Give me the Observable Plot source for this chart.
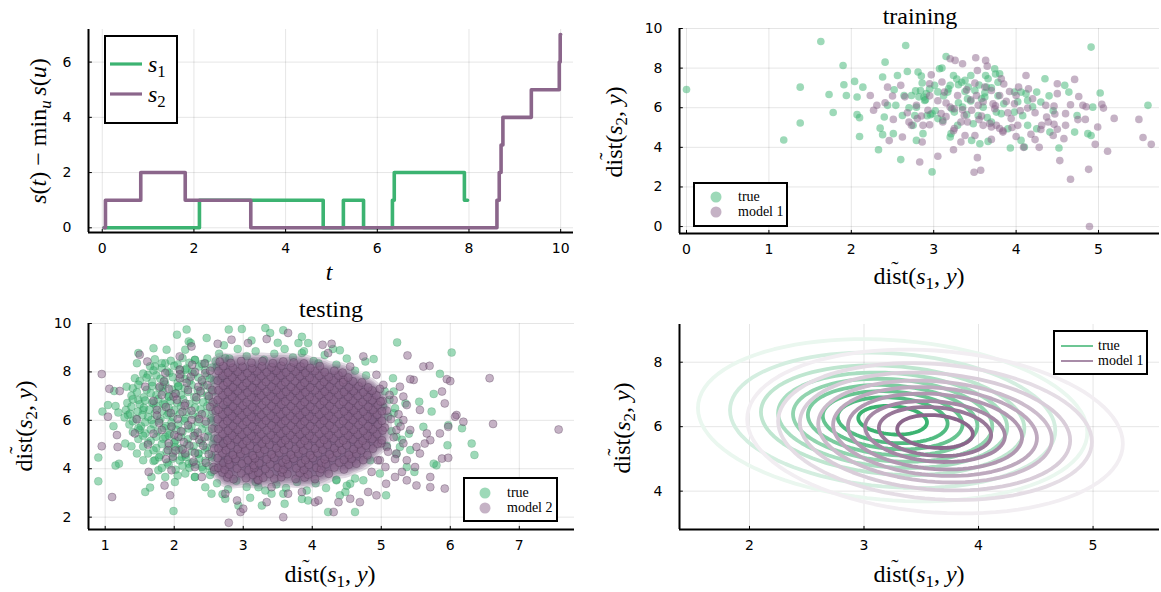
<!DOCTYPE html>
<html><head><meta charset="utf-8">
<script src="https://cdn.jsdelivr.net/npm/d3@7"></script>
<script src="https://cdn.jsdelivr.net/npm/@observablehq/plot@0.6"></script>
<style>
body{margin:0;background:#fff;}
#c{position:relative;width:1161px;height:592px;overflow:hidden;background:#fff;}
.lbl{position:absolute;white-space:nowrap;font-family:"Liberation Serif",serif;font-size:24px;line-height:1;color:#000;transform:translate(-50%,-50%);}
.rot{transform:translate(-50%,-50%) rotate(-90deg);}
sub{font-size:0.7em;vertical-align:-0.3em;line-height:0;}
.dt{position:relative;display:inline-block;}
.dt::after{content:"\02DC";position:absolute;left:62%;top:-0.22em;transform:translateX(-50%);font-size:0.9em;}
.leg{position:absolute;box-sizing:border-box;border:2px solid #000;background:#fff;}
.leg svg{position:absolute;left:0;top:0;overflow:visible;}
.lt{position:absolute;white-space:nowrap;font-family:"Liberation Serif",serif;font-size:14px;line-height:1;transform:translateY(-50%);}
</style></head>
<body><div id="c"></div>
<script>
// ---------- colours ----------
const green = "#3CB371", purple = "#8B668B";

// ---------- panel 1 : step functions ----------
const s1T = [0.04, 2.12, 4.82, 5.26, 5.70, 6.33, 6.37, 7.90, 7.97];
const s1V = [0, 1, 0, 1, 0, 1, 2, 1, 1];
const s2T = [0.04, 0.07, 0.84, 1.81, 3.24, 8.61, 8.66, 8.70, 8.74, 9.36, 9.97, 9.99, 10.0];
const s2V = [0, 1, 2, 1, 0, 1, 2, 3, 4, 5, 6, 7, 7];
const p1xTicks = [0, 2, 4, 6, 8, 10], p1yTicks = [0, 2, 4, 6];

// ---------- panel 2 : training ----------
const trainTrue = [[0.00,6.92],[1.63,9.34],[2.66,9.14],[4.91,9.06],[1.90,8.13],[2.41,8.30],[1.38,7.04],[1.73,6.67],[1.91,7.16],[1.94,6.62],[1.78,5.76],[1.38,5.23],[1.18,4.37],[2.04,7.33],[2.14,7.04],[2.07,6.54],[2.07,5.65],[2.10,5.50],[2.10,4.55],[2.33,3.88],[2.35,4.97],[2.38,4.64],[2.38,7.55],[2.56,7.63],[2.68,7.83],[2.51,4.69],[2.60,3.38],[2.52,6.91],[2.54,6.12],[2.44,6.12],[2.64,6.62],[2.73,6.62],[2.81,7.80],[2.85,7.60],[2.84,6.87],[2.88,6.54],[2.91,6.71],[2.79,6.03],[2.77,5.61],[2.87,4.69],[2.79,4.35],[2.98,2.76],[2.98,5.70],[3.01,7.13],[3.07,7.97],[3.10,8.00],[3.15,8.59],[3.24,7.63],[3.20,7.13],[3.17,6.79],[3.30,7.16],[3.34,7.29],[3.38,7.38],[3.45,7.63],[3.50,6.87],[3.41,6.45],[3.35,6.03],[3.25,5.78],[3.05,5.45],[3.11,5.36],[3.21,4.69],[3.20,4.52],[3.29,5.11],[3.48,5.19],[3.46,4.35],[3.56,4.18],[3.66,4.30],[3.63,7.63],[3.66,7.46],[3.74,7.97],[3.80,7.71],[3.78,7.29],[3.64,7.04],[3.62,6.54],[3.60,6.03],[3.76,5.78],[3.82,5.70],[3.98,5.78],[3.98,6.79],[4.06,6.79],[4.12,6.71],[4.14,6.37],[4.25,6.79],[4.35,7.46],[4.30,6.29],[4.25,4.94],[4.41,4.77],[4.14,5.11],[4.06,4.35],[4.10,4.02],[3.93,3.97],[4.52,3.97],[4.59,7.13],[4.64,6.79],[4.74,5.61],[4.71,4.77],[4.87,4.69],[4.91,4.60],[4.93,6.03],[5.02,6.74],[5.60,6.12],[3.45,6.34],[3.54,5.61],[3.70,5.28],[3.90,4.94],[2.89,6.37],[2.96,5.65],[2.75,5.11],[2.62,5.61],[2.40,5.53],[2.95,6.95],[3.05,6.80],[2.90,6.40],[2.82,6.55],[2.78,6.85],[3.12,6.60],[3.18,6.95],[3.38,6.82],[3.42,7.05],[3.55,7.15],[3.70,7.00],[3.58,6.45],[3.30,6.25],[3.22,5.95],[3.02,5.85],[2.70,6.00],[2.92,5.60],[3.65,5.50],[3.85,6.20],[4.02,6.30],[4.20,6.05],[4.45,5.85],[3.40,5.65],[3.62,6.75],[3.78,6.60],[2.86,7.25],[3.28,7.45],[3.75,7.70],[4.40,6.60],[4.08,5.60]];
const trainModel1 = [[4.89,0.00],[4.66,2.39],[4.88,2.89],[4.53,3.33],[3.49,2.74],[3.57,2.84],[3.53,3.48],[3.05,3.55],[2.83,3.26],[3.24,3.88],[3.33,4.27],[3.38,4.60],[3.24,4.84],[4.28,4.00],[4.09,4.00],[4.23,4.39],[4.18,4.66],[4.58,4.44],[4.96,4.15],[5.11,3.80],[5.64,4.15],[5.54,4.50],[5.49,5.41],[5.19,5.46],[4.99,5.03],[5.06,5.98],[5.04,6.17],[4.84,5.41],[4.81,6.12],[4.76,6.57],[4.71,7.43],[4.66,6.15],[4.60,5.11],[4.50,4.91],[4.46,5.16],[4.47,5.68],[4.50,6.71],[4.50,7.21],[4.46,6.08],[4.36,6.12],[4.37,5.53],[4.31,5.11],[4.12,7.63],[4.03,7.04],[4.00,6.62],[3.92,6.82],[3.88,6.32],[3.94,5.45],[3.84,4.84],[3.76,5.11],[3.70,5.03],[3.80,6.62],[3.74,5.95],[3.70,6.87],[3.65,8.10],[3.63,8.39],[3.51,8.52],[3.35,8.22],[3.26,8.39],[3.20,8.47],[3.53,7.88],[3.50,7.24],[3.52,6.62],[3.54,6.12],[3.46,5.87],[3.37,5.61],[3.33,5.28],[3.25,5.95],[3.20,6.03],[3.13,6.79],[3.15,6.24],[3.09,5.70],[3.11,5.28],[2.97,7.66],[2.95,7.21],[2.93,5.87],[2.95,5.14],[2.87,5.11],[2.86,4.27],[2.85,5.58],[2.79,6.12],[2.73,5.11],[2.68,5.75],[2.70,5.28],[2.62,4.52],[2.60,7.13],[2.50,6.59],[2.51,5.41],[2.46,4.34],[2.41,6.25],[2.31,6.12],[2.27,5.87],[2.23,6.62],[2.44,7.04],[4.14,5.98],[4.23,5.75],[4.39,5.28],[4.02,5.11],[3.82,7.46],[3.72,6.20],[3.84,4.77],[3.60,5.11],[3.58,5.58],[3.41,5.28],[3.29,6.62],[3.98,6.20],[3.45,6.40],[3.60,6.30],[3.75,6.10],[3.90,5.75],[4.05,5.85],[4.20,6.45],[3.35,5.90],[3.55,5.40],[3.68,5.20],[3.80,4.95],[3.95,5.00],[4.30,4.90],[4.45,4.60],[3.15,5.55],[3.05,6.35],[2.95,6.60],[3.40,6.90],[3.62,7.05],[3.85,7.20],[4.15,6.95],[4.60,5.70],[4.75,5.40],[3.25,4.95],[2.80,5.45],[2.65,6.55],[3.10,7.30],[3.50,4.60],[4.85,6.05],[4.00,4.55],[3.70,4.40]];
const p2xTicks = [0, 1, 2, 3, 4, 5], p2yTicks = [0, 2, 4, 6, 8, 10];

// ---------- panel 3 : testing ----------
const testTrue = [[0.90,3.48],[0.90,4.46],[0.96,6.36],[1.04,6.63],[1.15,6.59],[1.12,5.76],[1.19,6.32],[1.20,4.21],[1.15,4.13],[1.13,7.21],[1.29,5.04],[1.33,6.22],[1.38,4.93],[1.46,8.36],[1.48,8.78],[1.50,5.60],[1.58,3.04],[1.65,3.22],[1.70,8.98],[1.99,2.25],[2.04,9.54],[2.16,8.92],[2.18,9.75],[2.21,9.26],[2.24,9.19],[2.47,9.40],[2.79,9.75],[2.98,9.77],[3.32,9.81],[3.58,9.72],[3.39,9.61],[3.80,9.19],[3.94,9.19],[1.89,8.92],[1.72,8.22],[1.87,8.36],[1.43,7.74],[1.62,7.88],[1.31,7.39],[1.48,6.84],[1.55,6.43],[1.70,6.70],[1.67,6.01],[1.46,4.63],[1.55,4.35],[1.72,4.35],[1.77,3.94],[1.87,3.66],[1.67,3.66],[2.01,3.45],[2.16,3.80],[2.30,3.66],[2.45,3.24],[2.54,2.97],[2.74,2.76],[2.93,2.48],[3.27,2.48],[3.60,2.55],[3.94,2.69],[4.23,2.21],[3.22,3.24],[3.41,2.97],[3.58,2.97],[3.85,8.78],[4.09,8.36],[2.74,8.57],[2.62,8.22],[2.16,8.08],[2.06,7.39],[1.92,6.98],[1.83,7.39],[1.96,5.73],[1.87,5.32],[2.01,4.90],[2.11,4.49],[2.21,4.21],[2.35,4.63],[2.40,4.07],[2.54,3.87],[1.92,6.29],[1.84,6.70],[2.30,8.50],[2.45,8.36],
[5.23,9.22],[6.02,8.80],[4.40,8.89],[4.77,8.43],[4.89,8.53],[5.17,7.74],[5.18,7.19],[5.85,7.92],[5.76,7.09],[5.55,6.77],[5.73,6.36],[6.17,5.67],[5.97,5.80],[6.31,5.04],[6.35,4.57],[5.96,4.97],[5.80,4.14],[5.76,4.21],[5.48,3.87],[5.37,4.07],[5.07,2.90],[4.62,2.21],[4.48,3.04],[5.22,5.32],[5.27,4.90],[5.61,5.73],[5.42,4.77],[5.18,6.29],[5.03,6.56],[4.89,6.01],[4.84,4.35],[4.98,3.80],[4.74,3.52],[4.55,3.38],[4.35,3.52],
[1.72,8.52],[1.95,8.46],[2.12,8.57],[2.30,8.49],[2.48,8.55],[2.60,8.44],[1.65,8.23],[1.82,8.16],[2.00,8.25],[2.18,8.14],[2.36,8.22],[2.55,8.18],[1.55,7.93],[1.74,7.86],[1.93,7.95],[2.10,7.88],[2.28,7.92],[2.47,7.85],[1.50,7.62],[1.68,7.57],[1.86,7.64],[2.05,7.55],[2.22,7.63],[2.41,7.58],[2.58,7.66],[1.40,7.33],[1.60,7.26],[1.78,7.34],[1.97,7.27],[2.15,7.32],[2.34,7.25],[2.52,7.35],[1.38,7.02],[1.56,6.95],[1.74,7.04],[1.92,6.97],[2.10,7.05],[2.29,6.96],[2.48,7.03],[1.32,6.72],[1.50,6.66],[1.68,6.74],[1.86,6.65],[2.04,6.73],[2.22,6.67],[2.42,6.75],[2.58,6.68],[1.30,6.43],[1.47,6.36],[1.64,6.44],[1.82,6.37],[2.00,6.42],[2.18,6.35],[2.38,6.45],[2.56,6.38],[1.28,6.12],[1.45,6.06],[1.62,6.14],[1.80,6.05],[1.98,6.13],[2.16,6.07],[2.35,6.15],[2.53,6.08],[1.35,5.83],[1.52,5.76],[1.70,5.84],[1.88,5.77],[2.06,5.82],[2.25,5.75],[2.45,5.85],[1.40,5.52],[1.58,5.46],[1.76,5.54],[1.94,5.45],[2.12,5.53],[2.30,5.47],[2.50,5.55],[1.48,5.23],[1.66,5.16],[1.84,5.24],[2.02,5.17],[2.20,5.22],[2.40,5.15],[2.58,5.25],[1.55,4.92],[1.74,4.86],[1.92,4.94],[2.10,4.85],[2.28,4.93],[2.47,4.87],[1.62,4.63],[1.80,4.56],[1.98,4.64],[2.16,4.57],[2.35,4.62],[2.54,4.55],[1.70,4.32],[1.90,4.26],[2.08,4.34],[2.26,4.25],[2.45,4.33],[1.82,4.03],[2.02,3.96],[2.22,4.04],[2.42,3.97],[2.60,4.02],[2.05,3.72],[2.30,3.66],[2.52,3.74],
[1.82,8.36],[2.05,8.31],[2.22,8.38],[2.40,8.33],[1.70,8.06],[1.90,8.02],[2.08,8.08],[2.26,8.01],[2.45,8.07],[1.60,7.76],[1.80,7.72],[1.98,7.78],[2.16,7.71],[2.35,7.77],[2.52,7.74],[1.48,7.47],[1.68,7.42],[1.87,7.48],[2.06,7.41],[2.25,7.46],[2.43,7.43],[1.46,7.16],[1.66,7.12],[1.84,7.18],[2.02,7.11],[2.20,7.17],[2.39,7.13],[2.56,7.19],[1.40,6.87],[1.58,6.82],[1.77,6.88],[1.95,6.81],[2.13,6.86],[2.32,6.83],[2.50,6.89],[1.38,6.56],[1.56,6.52],[1.74,6.58],[1.92,6.51],[2.10,6.57],[2.30,6.53],[2.48,6.59],[1.36,6.27],[1.54,6.22],[1.72,6.28],[1.90,6.21],[2.08,6.26],[2.27,6.23],[2.45,6.29],[1.40,5.96],[1.58,5.92],[1.78,5.98],[1.96,5.91],[2.15,5.97],[2.34,5.93],[2.54,5.99],[1.48,5.67],[1.66,5.62],[1.85,5.68],[2.03,5.61],[2.21,5.66],[2.40,5.63],[2.58,5.69],[1.55,5.36],[1.74,5.32],[1.92,5.38],[2.10,5.31],[2.30,5.37],[2.49,5.33],[1.62,5.07],[1.82,5.02],[2.00,5.08],[2.19,5.01],[2.38,5.06],[2.56,5.03],[1.70,4.76],[1.89,4.72],[2.07,4.78],[2.26,4.71],[2.45,4.77],[1.78,4.47],[1.98,4.42],[2.17,4.48],[2.36,4.41],[2.55,4.46],[1.92,4.16],[2.12,4.12],[2.32,4.18],[2.50,4.11],
[2.65,8.75],[2.80,8.55],[2.92,8.95],[3.05,8.65],[3.18,8.85],[3.30,8.50],[3.45,8.75],[3.60,8.95],[3.72,8.60],[3.88,8.85],[4.02,8.45],[4.18,8.70],[4.35,8.30],[4.50,8.55],[4.62,8.05],[4.78,7.85],[2.72,9.10],[3.12,9.30],[3.50,9.20],[3.85,9.45],[4.30,8.95],
[2.62,3.40],[2.78,3.15],[2.90,3.50],[3.05,3.25],[3.18,3.45],[3.32,3.10],[3.48,3.35],[3.62,3.20],[3.78,3.45],[3.92,3.10],[4.05,3.40],[4.20,3.20],[4.35,3.55],[4.50,3.30],[4.62,3.60],[2.70,2.95],[3.10,2.80],[3.85,2.75],[4.40,2.90],
[5.05,7.20],[5.12,6.85],[5.20,6.50],[5.10,6.15],[5.25,5.90],[5.15,5.55],[5.30,5.20],[5.08,4.95],[5.22,4.60],[5.35,6.70],[5.40,5.45],[2.70,5.10],[2.75,6.60],[2.68,7.70],[2.72,4.30]];
const testModel2 = [[0.95,7.91],[1.10,2.83],[0.95,4.93],[1.06,7.30],[1.21,7.21],[1.04,6.15],[1.17,5.39],[1.18,4.90],[1.43,5.46],[1.46,6.04],[1.50,8.71],[1.61,8.43],[1.63,3.87],[1.86,3.31],[1.94,2.90],[1.91,4.77],[1.82,5.60],[1.75,6.43],[1.58,7.39],[1.79,7.39],[1.99,6.98],[1.87,7.95],[2.08,8.64],[2.25,9.05],[2.63,9.16],[2.83,9.33],[3.07,9.19],[3.34,9.36],[3.65,9.61],[4.15,9.12],[4.23,8.78],[2.57,4.07],[2.74,2.97],[2.91,2.69],[2.96,2.21],[2.79,1.77],[3.00,2.35],[3.34,2.62],[3.58,2.00],[4.04,2.62],[4.31,2.21],[2.30,4.07],[2.16,4.63],[2.06,5.32],[2.25,6.01],[2.16,6.70],[2.35,7.39],[2.45,7.95],[2.08,7.74],[1.96,3.94],[2.40,3.66],[3.22,3.52],[3.41,3.24],[3.65,2.97],[3.85,3.04],[4.09,2.69],
[4.28,9.16],[5.38,8.68],[6.57,7.74],[7.57,5.62],[6.62,5.85],[5.95,7.70],[5.61,8.22],[5.70,8.25],[5.47,7.67],[5.42,7.70],[5.27,7.39],[5.18,6.84],[5.32,6.98],[5.37,6.63],[5.56,6.43],[5.88,7.19],[5.92,6.70],[6.09,6.22],[6.19,5.94],[6.07,6.15],[5.85,5.46],[5.97,5.73],[5.66,5.46],[5.71,5.18],[5.51,4.90],[5.56,4.63],[5.63,5.04],[5.37,4.35],[5.49,4.07],[5.30,3.87],[5.20,3.66],[5.37,3.52],[5.51,3.31],[5.71,3.66],[5.71,3.24],[5.92,3.18],[5.88,4.42],[5.97,4.45],[5.07,3.38],[4.93,2.90],[4.81,3.04],[4.69,2.62],[4.55,2.76],[4.38,2.62],[4.86,3.87],[5.06,4.07],[5.22,4.63],[4.98,4.35],[5.08,4.90],[5.32,6.01],[5.22,5.60],[5.42,5.60],[5.03,7.46],[4.93,7.88],[4.74,8.64],[4.55,8.22],[4.45,7.67],[6.00,7.62],
[1.62,5.00],[1.70,6.80],[1.78,5.90],[1.85,7.60],[1.88,4.40],[1.95,6.30],[2.00,5.40],[2.02,7.10],[2.08,8.10],[2.12,4.80],[2.15,6.60],[2.20,5.80],[2.24,7.80],[2.28,4.30],[2.32,6.95],[2.36,5.20],[2.40,6.25],[2.44,8.35],[2.48,7.45],[2.50,4.60],[2.55,5.65],[2.56,6.75],[2.58,3.95],[1.92,5.05],[2.05,6.05],[2.25,6.40],[2.38,7.20],[2.46,5.95],[1.75,6.20],[1.82,7.05],[2.18,7.55],[2.30,8.00],[2.52,8.05],[2.42,4.95],[1.98,4.50],[2.10,5.55],[2.34,5.50],[2.22,4.95],[2.50,7.00],[2.60,6.40],
[1.88,6.55],[1.96,5.75],[2.04,6.85],[2.12,6.35],[2.20,7.25],[2.28,5.35],[2.36,6.05],[2.44,5.30],[2.52,6.55],[2.14,5.10],[2.30,4.65],[2.46,4.25],[2.08,7.90],[2.26,8.30],[2.40,7.65],[1.92,7.30],[1.70,5.45],[2.55,7.25],[2.58,4.85],[2.02,4.75],
[5.02,6.80],[5.08,6.40],[5.14,6.05],[5.05,5.70],[5.18,5.30],[5.00,5.05],[5.10,4.70],[5.25,6.25],[5.28,5.75],[4.98,7.30],[5.12,7.05],[4.95,4.35],[5.20,4.40],[5.32,5.05]];
const testModel2Core = [[2.77,3.64],[2.86,3.57],[3.04,3.61],[3.21,3.55],[3.29,3.63],[3.45,3.59],[3.55,3.65],[3.76,3.58],[3.89,3.64],[4.04,3.57],
[2.70,3.84],[2.79,3.77],[2.97,3.81],[3.14,3.75],[3.22,3.83],[3.38,3.79],[3.56,3.85],[3.64,3.78],[3.82,3.82],[3.94,3.76],[4.11,3.84],[4.24,3.79],
[2.64,4.04],[2.73,3.97],[2.91,4.01],[3.08,3.95],[3.16,4.03],[3.32,3.99],[3.50,4.05],[3.58,3.98],[3.77,4.02],[3.88,3.96],[4.06,4.04],[4.13,3.99],[4.32,4.05],[4.46,3.97],
[2.71,4.24],[2.80,4.17],[2.98,4.21],[3.15,4.15],[3.23,4.23],[3.39,4.19],[3.57,4.25],[3.65,4.18],[3.84,4.22],[3.95,4.16],[4.13,4.24],[4.20,4.19],[4.39,4.25],[4.53,4.17],[4.64,4.21],
[2.63,4.44],[2.78,4.37],[2.89,4.41],[3.07,4.35],[3.17,4.43],[3.34,4.39],[3.45,4.45],[3.62,4.38],[3.73,4.42],[3.90,4.36],[4.01,4.44],[4.18,4.39],[4.29,4.45],[4.46,4.37],[4.57,4.41],[4.74,4.36],
[2.70,4.64],[2.85,4.57],[2.96,4.61],[3.14,4.55],[3.24,4.63],[3.41,4.59],[3.52,4.65],[3.69,4.58],[3.80,4.62],[3.97,4.56],[4.08,4.64],[4.25,4.59],[4.36,4.65],[4.53,4.57],[4.64,4.61],[4.80,4.56],
[2.64,4.84],[2.75,4.77],[2.92,4.81],[3.03,4.75],[3.20,4.83],[3.31,4.79],[3.48,4.85],[3.59,4.78],[3.76,4.82],[3.87,4.76],[4.04,4.84],[4.15,4.79],[4.32,4.85],[4.43,4.77],[4.60,4.81],[4.71,4.76],[4.88,4.83],
[2.71,5.04],[2.82,4.97],[2.99,5.01],[3.10,4.95],[3.27,5.03],[3.38,4.99],[3.55,5.05],[3.66,4.98],[3.83,5.02],[3.94,4.96],[4.11,5.04],[4.22,4.99],[4.39,5.05],[4.50,4.97],[4.67,5.01],[4.78,4.96],[4.95,5.03],
[2.63,5.24],[2.77,5.17],[2.91,5.21],[3.05,5.15],[3.19,5.23],[3.33,5.19],[3.47,5.25],[3.61,5.18],[3.75,5.22],[3.89,5.16],[4.03,5.24],[4.17,5.19],[4.31,5.25],[4.45,5.17],[4.59,5.21],[4.73,5.16],[4.87,5.23],[5.01,5.18],
[2.70,5.44],[2.84,5.37],[2.98,5.41],[3.12,5.35],[3.26,5.43],[3.40,5.39],[3.54,5.45],[3.68,5.38],[3.82,5.42],[3.96,5.36],[4.10,5.44],[4.24,5.39],[4.38,5.45],[4.52,5.37],[4.66,5.41],[4.80,5.36],[4.94,5.43],
[2.64,5.64],[2.78,5.57],[2.92,5.61],[3.06,5.55],[3.20,5.63],[3.34,5.59],[3.48,5.65],[3.62,5.58],[3.76,5.62],[3.90,5.56],[4.04,5.64],[4.18,5.59],[4.32,5.65],[4.46,5.57],[4.60,5.61],[4.74,5.56],[4.88,5.63],[5.02,5.58],
[2.71,5.84],[2.85,5.77],[2.99,5.81],[3.13,5.75],[3.27,5.83],[3.41,5.79],[3.55,5.85],[3.69,5.78],[3.83,5.82],[3.97,5.76],[4.11,5.84],[4.25,5.79],[4.39,5.85],[4.53,5.77],[4.67,5.81],[4.81,5.76],[4.95,5.83],
[2.63,6.04],[2.77,5.97],[2.91,6.01],[3.05,5.95],[3.19,6.03],[3.33,5.99],[3.47,6.05],[3.61,5.98],[3.75,6.02],[3.89,5.96],[4.03,6.04],[4.17,5.99],[4.31,6.05],[4.45,5.97],[4.59,6.01],[4.73,5.96],[4.87,6.03],[5.01,5.98],
[2.70,6.24],[2.84,6.17],[2.98,6.21],[3.12,6.15],[3.26,6.23],[3.40,6.19],[3.54,6.25],[3.68,6.18],[3.82,6.22],[3.96,6.16],[4.10,6.24],[4.24,6.19],[4.38,6.25],[4.52,6.17],[4.66,6.21],[4.80,6.16],[4.94,6.23],
[2.64,6.44],[2.78,6.37],[2.92,6.41],[3.06,6.35],[3.20,6.43],[3.34,6.39],[3.48,6.45],[3.62,6.38],[3.76,6.42],[3.90,6.36],[4.04,6.44],[4.18,6.39],[4.32,6.45],[4.46,6.37],[4.60,6.41],[4.74,6.36],[4.88,6.43],[5.01,6.38],
[2.71,6.64],[2.85,6.57],[2.99,6.61],[3.13,6.55],[3.27,6.63],[3.41,6.59],[3.55,6.65],[3.69,6.58],[3.83,6.62],[3.97,6.56],[4.11,6.64],[4.25,6.59],[4.39,6.65],[4.53,6.57],[4.67,6.61],[4.81,6.56],[4.95,6.63],
[2.63,6.84],[2.77,6.77],[2.91,6.81],[3.05,6.75],[3.19,6.83],[3.33,6.79],[3.47,6.85],[3.61,6.78],[3.75,6.82],[3.89,6.76],[4.03,6.84],[4.17,6.79],[4.31,6.85],[4.45,6.77],[4.59,6.81],[4.73,6.76],[4.87,6.83],[4.99,6.78],
[2.70,7.04],[2.84,6.97],[2.98,7.01],[3.12,6.95],[3.26,7.03],[3.40,6.99],[3.54,7.05],[3.68,6.98],[3.82,7.02],[3.96,6.96],[4.10,7.04],[4.24,6.99],[4.38,7.05],[4.52,6.97],[4.66,7.01],[4.80,6.96],[4.93,7.03],
[2.64,7.24],[2.78,7.17],[2.92,7.21],[3.06,7.15],[3.20,7.23],[3.34,7.19],[3.48,7.25],[3.62,7.18],[3.76,7.22],[3.90,7.16],[4.04,7.24],[4.18,7.19],[4.32,7.25],[4.46,7.17],[4.60,7.21],[4.74,7.16],[4.87,7.23],
[2.71,7.44],[2.85,7.37],[2.99,7.41],[3.13,7.35],[3.27,7.43],[3.41,7.39],[3.55,7.45],[3.69,7.38],[3.83,7.42],[3.97,7.36],[4.11,7.44],[4.25,7.39],[4.39,7.45],[4.53,7.37],[4.67,7.41],[4.81,7.36],
[2.63,7.64],[2.77,7.57],[2.91,7.61],[3.05,7.55],[3.19,7.63],[3.33,7.59],[3.47,7.65],[3.61,7.58],[3.75,7.62],[3.89,7.56],[4.03,7.64],[4.17,7.59],[4.31,7.65],[4.45,7.57],[4.59,7.61],[4.72,7.56],
[2.70,7.84],[2.84,7.77],[2.98,7.81],[3.12,7.75],[3.26,7.83],[3.40,7.79],[3.54,7.85],[3.68,7.78],[3.82,7.82],[3.96,7.76],[4.10,7.84],[4.24,7.79],[4.38,7.85],[4.52,7.77],
[2.64,8.04],[2.78,7.97],[2.92,8.01],[3.06,7.95],[3.20,8.03],[3.34,7.99],[3.48,8.05],[3.62,7.98],[3.76,8.02],[3.90,7.96],[4.04,8.04],[4.18,7.99],[4.32,8.05],[4.44,7.97],
[2.71,8.24],[2.85,8.17],[2.99,8.21],[3.13,8.15],[3.27,8.23],[3.41,8.19],[3.55,8.25],[3.69,8.18],[3.83,8.22],[3.97,8.16],[4.11,8.24],
[2.66,8.42],[2.82,8.37],[2.97,8.45],[3.12,8.38],[3.28,8.44],[3.43,8.36],[3.58,8.43],[3.73,8.39],[3.88,8.35]];
const p3xTicks = [1, 2, 3, 4, 5, 6, 7], p3yTicks = [2, 4, 6, 8, 10];

// ---------- panel 4 : density contours (fitted Gaussians) ----------
const trueCenter = [3.25, 6.20], trueShape = {k: 1.48, rho: -0.15};
const trueHalfWidths = [0.30, 0.48, 0.61, 0.74, 0.87, 1.00, 1.15, 1.42, 1.70];
const modelCenter = [3.62, 5.85], modelShape = {k: 1.55, rho: -0.15};
const modelHalfWidths = [0.33, 0.49, 0.61, 0.76, 0.89, 1.02, 1.18, 1.37, 1.64];
const levelShade = [1, 0.89, 0.78, 0.67, 0.56, 0.44, 0.33, 0.22, 0.11];
const p4xTicks = [2, 3, 4, 5], p4yTicks = [4, 6, 8];

// ---------- helpers ----------
const C = document.getElementById("c");
function put(cls, html, x, y) {
  const d = document.createElement("div");
  d.className = cls; d.innerHTML = html;
  d.style.left = x + "px"; d.style.top = y + "px";
  C.appendChild(d); return d;
}
function panel({box, fr, xd, yd, xt, yt, marks}) {
  const svg = Plot.plot({
    width: box[2], height: box[3],
    marginLeft: fr[0] - box[0], marginTop: fr[1] - box[1],
    marginRight: box[0] + box[2] - fr[2], marginBottom: box[1] + box[3] - fr[3],
    x: {domain: xd, ticks: xt, tickFormat: "d", tickSize: 0, tickPadding: 11, label: null},
    y: {domain: yd, ticks: yt, tickFormat: "d", tickSize: 0, tickPadding: 17, label: null},
    style: {fontFamily: "DejaVu Sans, sans-serif", fontSize: "14px", color: "#000", background: "transparent", overflow: "visible"},
    marks: [
      Plot.gridX(xt, {stroke: "#000", strokeOpacity: 0.1, strokeWidth: 1}),
      Plot.gridY(yt, {stroke: "#000", strokeOpacity: 0.1, strokeWidth: 1}),
      ...marks,
      Plot.ruleX(xt, {y1: yd[0], y2: yd[0] + (yd[1] - yd[0]) * 0.015, stroke: "#000", strokeWidth: 1}),
      Plot.ruleY(yt, {x1: xd[0], x2: xd[0] + (xd[1] - xd[0]) * 0.008, stroke: "#000", strokeWidth: 1}),
      Plot.ruleX([xd[0]], {stroke: "#000", strokeWidth: 2}),
      Plot.ruleY([yd[0]], {stroke: "#000", strokeWidth: 2})
    ]
  });
  svg.style.position = "absolute";
  svg.style.left = box[0] + "px"; svg.style.top = box[1] + "px";
  C.appendChild(svg);
}
function legend(x, y, w, h, items) {
  const d = document.createElement("div");
  d.className = "leg";
  Object.assign(d.style, {left: x + "px", top: y + "px", width: w + "px", height: h + "px"});
  let svg = `<svg width="${w}" height="${h}">`;
  let txt = "";
  for (const it of items) {
    if (it.kind === "dot") svg += `<circle cx="${it.mx}" cy="${it.my}" r="${it.r}" fill="${it.color}" fill-opacity="0.5"/>`;
    else svg += `<line x1="${it.mx}" x2="${it.mx2}" y1="${it.my}" y2="${it.my}" stroke="${it.color}" stroke-width="${it.sw}"/>`;
    txt += `<div class="lt" style="left:${it.tx}px;top:${it.my}px;${it.style || ""}">${it.label}</div>`;
  }
  d.innerHTML = svg + "</svg>" + txt;
  C.appendChild(d);
}
const xy = {x: d => d[0], y: d => d[1]};
const DIST = '<span class="dt">dist</span>';

// ---------- panel 1 ----------
const s1 = s1T.map((t, i) => ({t, v: s1V[i]}));
const s2 = s2T.map((t, i) => ({t, v: s2V[i]}));
panel({box: [0, 0, 580, 292], fr: [88, 29, 573, 232], xd: [-0.3, 10.28], yd: [-0.17, 7.18],
  xt: p1xTicks, yt: p1yTicks,
  marks: [
    Plot.line(s1, {x: "t", y: "v", curve: "step-after", stroke: green, strokeWidth: 3.6}),
    Plot.line(s2, {x: "t", y: "v", curve: "step-after", stroke: purple, strokeWidth: 3.6})
  ]});
put("lbl rot", '<i>s</i>(<i>t</i>) − min<sub><i>u</i></sub>&thinsp;<i>s</i>(<i>u</i>)', 38, 131);
put("lbl", "<i>t</i>", 329, 272);
legend(104, 35, 74, 89, [
  {kind: "line", mx: 4, mx2: 36, my: 27, color: green, sw: 3.2, tx: 42, label: "<i>s</i><sub>1</sub>", style: "font-size:24px;"},
  {kind: "line", mx: 4, mx2: 36, my: 57, color: purple, sw: 3.2, tx: 42, label: "<i>s</i><sub>2</sub>", style: "font-size:24px;"}
]);

// ---------- panel 2 ----------
panel({box: [580, 0, 581, 292], fr: [679, 28, 1159, 233], xd: [-0.085, 5.74], yd: [-0.35, 10.0],
  xt: p2xTicks, yt: p2yTicks,
  marks: [
    Plot.dot(trainTrue, {...xy, r: 3.8, fill: green, fillOpacity: 0.5, clip: true}),
    Plot.dot(trainModel1, {...xy, r: 3.8, fill: purple, fillOpacity: 0.5, clip: true})
  ]});
put("lbl", "training", 920, 16);
put("lbl", DIST + "(<i>s</i><sub>1</sub>, <i>y</i>)", 919, 276);
put("lbl rot", DIST + "(<i>s</i><sub>2</sub>, <i>y</i>)", 614, 132);
legend(693, 182, 95, 45, [
  {kind: "dot", mx: 21, my: 13, r: 5.5, color: green, tx: 43, label: "true"},
  {kind: "dot", mx: 21, my: 28, r: 5.5, color: purple, tx: 43, label: "model 1"}
]);

// ---------- panel 3 ----------
const dotG = {...xy, r: 4, fill: green, fillOpacity: 0.5, stroke: "#23703f", strokeOpacity: 0.25, strokeWidth: 0.7, clip: true};
const dotP = {...xy, r: 4, fill: purple, fillOpacity: 0.5, stroke: "#3e2842", strokeOpacity: 0.35, strokeWidth: 0.8, clip: true};
panel({box: [0, 295, 580, 297], fr: [88, 323, 574, 529], xd: [0.758, 7.8], yd: [1.49, 10.0],
  xt: p3xTicks, yt: p3yTicks,
  marks: [
    Plot.dot(testTrue, dotG),
    Plot.density(testModel2Core, {...xy, bandwidth: 3.5, thresholds: 12, fill: "#72527a", fillOpacity: 0.22, stroke: "none", clip: true}),
    Plot.dot(testModel2, dotP),
    Plot.dot(testModel2Core, dotP)
  ]});
put("lbl", "testing", 331, 309);
put("lbl", DIST + "(<i>s</i><sub>1</sub>, <i>y</i>)", 330, 574);
put("lbl rot", DIST + "(<i>s</i><sub>2</sub>, <i>y</i>)", 24, 426);
legend(463, 477, 95, 45, [
  {kind: "dot", mx: 20, my: 14, r: 5.5, color: green, tx: 42, label: "true"},
  {kind: "dot", mx: 20, my: 29, r: 5.5, color: purple, tx: 42, label: "model 2"}
]);

// ---------- panel 4 ----------
function ring(center, shape, hw) {
  const s = Math.sqrt(1 - shape.rho * shape.rho);
  return d3.range(0, 97).map(i => {
    const t = i / 96 * 2 * Math.PI;
    return [center[0] + hw * Math.cos(t), center[1] + hw * shape.k * (shape.rho * Math.cos(t) + s * Math.sin(t))];
  });
}
const shadeG = d3.interpolateRgb("#ffffff", green), shadeP = d3.interpolateRgb("#ffffff", purple);
const ringMarks = [];
trueHalfWidths.forEach((hw, i) => ringMarks.unshift(Plot.line(ring(trueCenter, trueShape, hw), {...xy, stroke: shadeG(levelShade[i]), strokeWidth: 3.8, clip: true})));
const modelMarks = [];
modelHalfWidths.forEach((hw, i) => modelMarks.unshift(Plot.line(ring(modelCenter, modelShape, hw), {...xy, stroke: shadeP(levelShade[i]), strokeWidth: 3.8, clip: true})));
panel({box: [580, 295, 581, 297], fr: [679, 324, 1159, 529], xd: [1.389, 5.58], yd: [2.81, 9.17],
  xt: p4xTicks, yt: p4yTicks,
  marks: [...ringMarks, ...modelMarks]});
put("lbl", DIST + "(<i>s</i><sub>1</sub>, <i>y</i>)", 919, 574);
put("lbl rot", DIST + "(<i>s</i><sub>2</sub>, <i>y</i>)", 622, 428);
legend(1053, 330, 95, 45, [
  {kind: "line", mx: 6, mx2: 38, my: 14, color: green, sw: 1.5, tx: 43, label: "true"},
  {kind: "line", mx: 6, mx2: 38, my: 29, color: purple, sw: 1.5, tx: 43, label: "model 1"}
]);
</script>
</body></html>
